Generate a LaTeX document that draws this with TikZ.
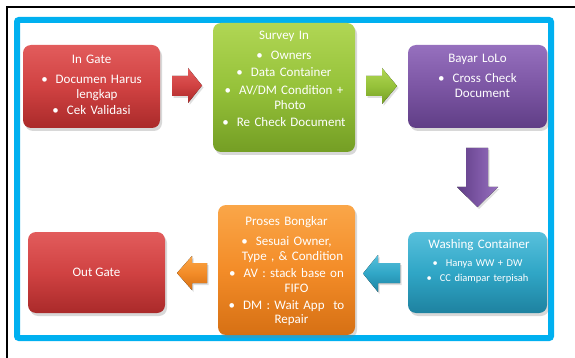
\documentclass[tikz,border=0pt]{standalone}
\usepackage{fontspec}
\setmainfont{Carlito}
\usetikzlibrary{shadows}
\definecolor{frameblue}{RGB}{0,176,240}
\definecolor{redT}{RGB}{226,92,92}
\definecolor{redM}{RGB}{208,66,66}
\definecolor{redB}{RGB}{170,42,42}
\definecolor{grnT}{RGB}{176,214,84}
\definecolor{grnM}{RGB}{150,194,58}
\definecolor{grnB}{RGB}{116,158,36}
\definecolor{purT}{RGB}{150,112,190}
\definecolor{purM}{RGB}{124,86,164}
\definecolor{purB}{RGB}{96,62,134}
\definecolor{cyaT}{RGB}{88,192,220}
\definecolor{cyaM}{RGB}{48,166,198}
\definecolor{cyaB}{RGB}{30,130,160}
\definecolor{orgT}{RGB}{250,166,72}
\definecolor{orgM}{RGB}{243,140,40}
\definecolor{orgB}{RGB}{214,112,20}
\newcommand{\bl}{\textbullet\hspace{8pt}}
\tikzset{
  box/.style={rectangle, rounded corners=8pt, inner sep=0pt,
    drop shadow={shadow xshift=2pt, shadow yshift=-3pt, opacity=0.3}},
  redbox/.style={box, top color=redT, bottom color=redB, middle color=redM},
  grnbox/.style={box, top color=grnT, bottom color=grnB, middle color=grnM},
  purbox/.style={box, top color=purT, bottom color=purB, middle color=purM},
  cyabox/.style={box, top color=cyaT, bottom color=cyaB, middle color=cyaM},
  orgbox/.style={box, top color=orgT, bottom color=orgB, middle color=orgM},
  txt/.style={text=white, align=center, inner sep=0pt, anchor=base,
    font=\fontsize{13}{15}\selectfont},
  small/.style={txt, font=\fontsize{10.5}{15}\selectfont},
  arr/.style={drop shadow={shadow xshift=1.5pt, shadow yshift=-2pt, opacity=0.25}}
}
\begin{document}
\begin{tikzpicture}[x=1pt,y=-1pt]
\useasboundingbox (0,0) rectangle (575,358);
\fill[white] (0,0) rectangle (575,358);
% outer black frame
\draw[black, line width=2pt] (7,358) -- (7,7) -- (575,7);
% blue frame
\draw[frameblue, line width=6pt, rounded corners=2pt] (17,20) rectangle (551,338);

% boxes
\node[redbox, minimum width=137pt, minimum height=83pt] (ingate) at (91.5,86.5) {};
\node[grnbox, minimum width=142pt, minimum height=129pt] (survey) at (284,87.5) {};
\node[purbox, minimum width=139pt, minimum height=83pt] (bayar) at (477.5,86.5) {};
\node[cyabox, minimum width=139pt, minimum height=81pt] (washing) at (477.5,272.5) {};
\node[orgbox, minimum width=137pt, minimum height=130pt] (proses) at (286.5,270) {};
\node[redbox, minimum width=137pt, minimum height=81pt] (outgate) at (96.5,272.5) {};

% texts
\node[txt, text width=133pt] (tingate) at (91.5,63.5)
  {In Gate\\[5pt]\bl Documen Harus\\\hspace*{11pt}lengkap\\[1pt]\bl Cek Validasi};
\node[txt, text width=140pt] (tsurvey) at (284,40)
  {Survey In\\[5pt]\bl Owners\\[2pt]\bl Data Container\\[3pt]\bl AV/DM Condition +\\\hspace*{12pt}Photo\\[2pt]\bl Re Check Document};
\node[txt, text width=135pt] (tbayar) at (477.5,63)
  {Bayar LoLo\\[5pt]\bl Cross Check\\\hspace*{10pt}Document};
\node[txt, text width=135pt] (twash) at (479,248.5) {Washing Container};
\node[small, text width=135pt] (twashb) at (477.5,266.5)
  {\bl Hanya WW + DW\\\bl CC diampar terpisah};
\node[txt, text width=135pt] (tproses) at (286.5,225)
  {Proses Bongkar\\[5pt]\bl Sesuai Owner,\\\hspace*{12pt}Type , \& Condition\\[2pt]\bl AV : stack base on\\\hspace*{20pt}FIFO\\[2pt]\bl DM : Wait App\ \ to\\[-1pt]\hspace*{10pt}Repair};
\node[txt] (toutgate) at (96.5,276) {Out Gate};

% block arrows
\coordinate (a1) at (172,76);
\fill[arr, top color=redT, bottom color=redB, middle color=redM]
  (a1) -- (188,76) -- (188,68) -- (202,85.5) -- (188,103) -- (188,96) -- (172,96) -- cycle;
\coordinate (a2) at (366,76);
\fill[arr, top color=grnT, bottom color=grnB, middle color=grnM]
  (a2) -- (382,76) -- (382,68) -- (397,86) -- (382,104) -- (382,96) -- (366,96) -- cycle;
\coordinate (a3) at (466,148);
\fill[arr, left color=purB, right color=purT, middle color=purM]
  (a3) -- (488,148) -- (488,187) -- (498,187) -- (477.5,207) -- (457,187) -- (466,187) -- cycle;
\coordinate (a4) at (400,263);
\fill[arr, top color=cyaT, bottom color=cyaB, middle color=cyaM]
  (a4) -- (378,263) -- (378,255) -- (363,273.5) -- (378,292) -- (378,283) -- (400,283) -- cycle;
\coordinate (a5) at (207,263);
\fill[arr, top color=orgT, bottom color=orgB, middle color=orgM]
  (a5) -- (192,263) -- (192,256) -- (177,273) -- (192,290) -- (192,283) -- (207,283) -- cycle;
\end{tikzpicture}
\end{document}
